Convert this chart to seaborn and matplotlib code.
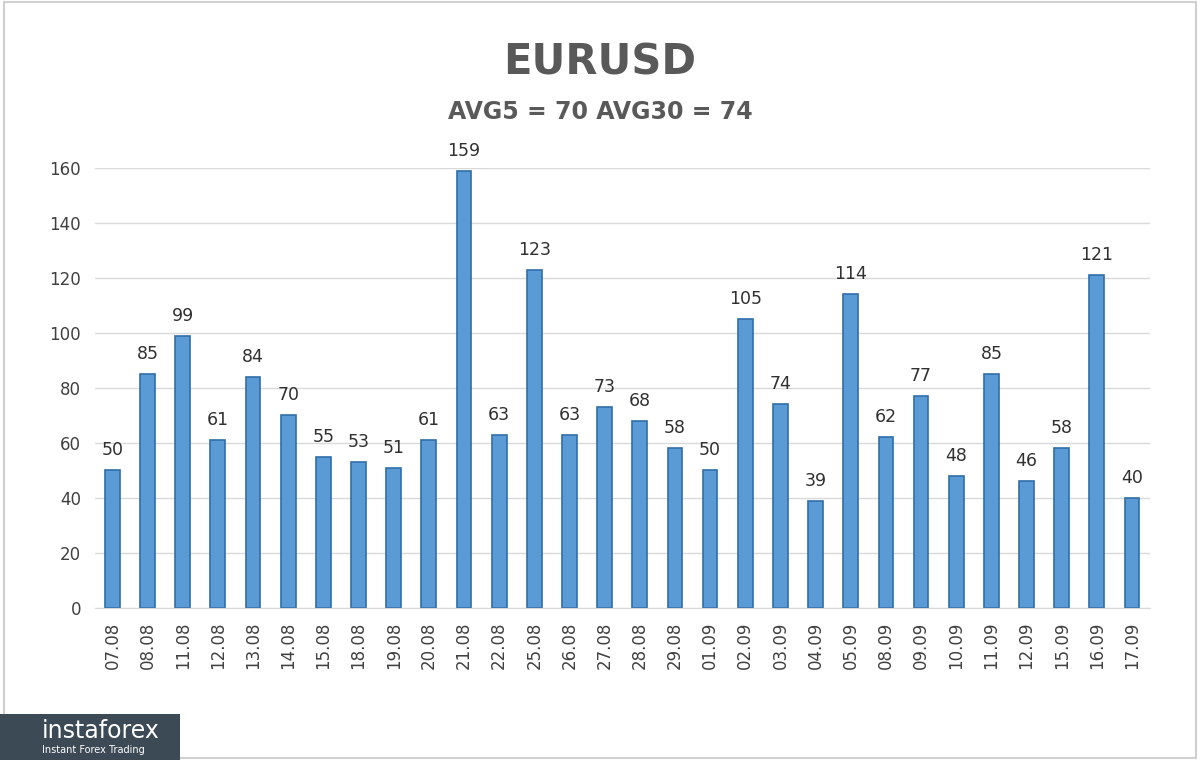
import matplotlib
matplotlib.use("Agg")
import matplotlib.pyplot as plt
import seaborn as sns
import pandas as pd

dates = ["07.08","08.08","11.08","12.08","13.08","14.08","15.08","18.08","19.08","20.08",
         "21.08","22.08","25.08","26.08","27.08","28.08","29.08","01.09","02.09","03.09",
         "04.09","05.09","08.09","09.09","10.09","11.09","12.09","15.09","16.09","17.09"]
values = [50,85,99,61,84,70,55,53,51,61,159,63,123,63,73,68,58,50,105,74,39,114,62,77,48,85,46,58,121,40]
yticks = [0,20,40,60,80,100,120,140,160]

df = pd.DataFrame({"date": dates, "value": values})
sns.set_style("white")
fig = plt.figure(figsize=(12, 7.6), dpi=100)
fig.patch.set_facecolor("white")
fig.patches.append(matplotlib.patches.Rectangle((0.003, 0.003), 0.994, 0.994, transform=fig.transFigure,
                   fill=False, edgecolor="#d0d0d0", linewidth=1.5))
ax = fig.add_axes([0.079, 0.2, 0.879, 0.579])
sns.barplot(data=df, x="date", y="value", ax=ax, color="#5b9bd5", width=0.42,
            edgecolor="#2f6ea8", linewidth=1.2, saturation=1)
ax.set_ylim(0, 160)
ax.set_yticks(yticks)
ax.grid(axis="y", color="#d9d9d9", linewidth=1)
ax.set_axisbelow(True)
for s in ["top", "right", "left"]:
    ax.spines[s].set_visible(False)
ax.spines["bottom"].set_color("#d9d9d9")
ax.set_xlabel(""); ax.set_ylabel("")
ax.tick_params(axis="x", rotation=90, labelsize=12, colors="#404040", length=0, pad=10)
ax.tick_params(axis="y", labelsize=12, colors="#404040", length=0, pad=10)
for i, v in enumerate(values):
    ax.text(i, v + 4, str(v), ha="center", va="bottom", fontsize=12.5, color="#303030", clip_on=False)
fig.text(0.5, 0.918, "EURUSD", ha="center", va="center", fontsize=30, fontweight="bold", color="#595959")
fig.text(0.5, 0.852, "AVG5 = 70 AVG30 = 74", ha="center", va="center", fontsize=17, fontweight="bold", color="#595959")
fig.patches.append(matplotlib.patches.Rectangle((0.0, 0.0), 0.15, 0.06, transform=fig.transFigure,
                   facecolor="#3c4a56", edgecolor="none"))
fig.text(0.035, 0.038, "instaforex", fontsize=17, color="white", va="center")
fig.text(0.035, 0.013, "Instant Forex Trading", fontsize=7, color="white", va="center")
fig.savefig("out.png", dpi=100)
